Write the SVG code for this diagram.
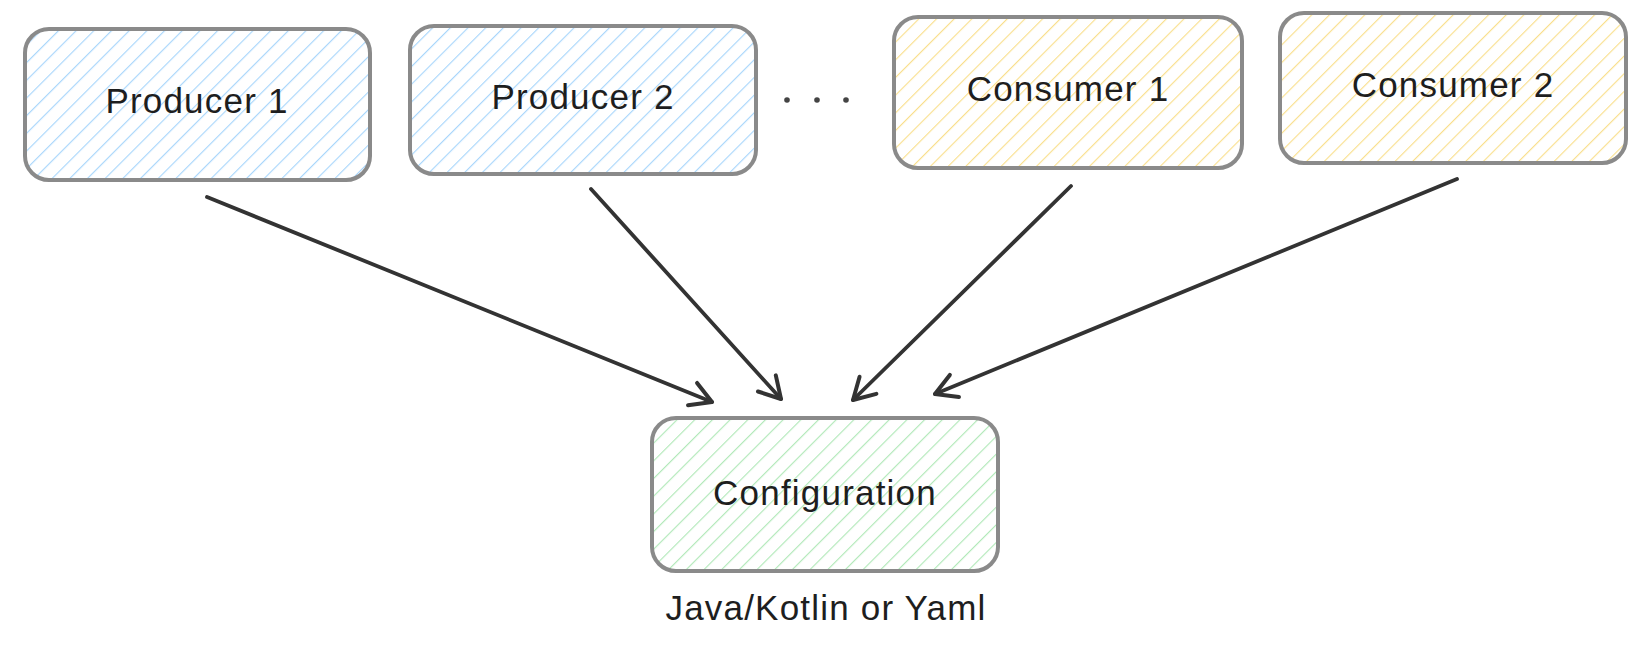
<svg xmlns="http://www.w3.org/2000/svg" width="1650" height="652" viewBox="0 0 1650 652">
<defs>
<pattern id="hBlue" patternUnits="userSpaceOnUse" width="12.5" height="12.5" patternTransform="rotate(45)"><line x1="0" y1="0" x2="0" y2="12.5" stroke="#a8d6fb" stroke-width="2.3"/></pattern>
<pattern id="hYellow" patternUnits="userSpaceOnUse" width="12.5" height="12.5" patternTransform="rotate(45)"><line x1="0" y1="0" x2="0" y2="12.5" stroke="#f9df8c" stroke-width="2.3"/></pattern>
<pattern id="hGreen" patternUnits="userSpaceOnUse" width="12.5" height="12.5" patternTransform="rotate(45)"><line x1="0" y1="0" x2="0" y2="12.5" stroke="#b0e8b8" stroke-width="2.3"/></pattern>
<marker id="arr" markerWidth="32" markerHeight="32" viewBox="0 0 32 32" refX="27" refY="16" orient="auto" markerUnits="userSpaceOnUse"><path d="M6,4 L27,16 L6,28" fill="none" stroke="#333" stroke-width="4" stroke-linecap="round" stroke-linejoin="round"/></marker>
</defs>
<style>
.box{stroke:#8a8a8a;stroke-width:4}
.lbl{font-family:"Liberation Sans",Arial,sans-serif;font-size:35px;fill:#1e1e1e;text-anchor:middle;letter-spacing:1.2px}
.con{stroke:#333;stroke-width:3.8;fill:none;stroke-linecap:round}
</style>
<g id="producer1"><rect class="box" x="25" y="29" width="345" height="151" rx="24" fill="url(#hBlue)"/><text class="lbl" x="197" y="113">Producer 1</text></g>
<g id="producer2"><rect class="box" x="410" y="26" width="346" height="148" rx="24" fill="url(#hBlue)"/><text class="lbl" x="583" y="109">Producer 2</text></g>
<g id="dots" fill="#444"><circle cx="787" cy="100" r="2.8"/><circle cx="817" cy="100" r="2.8"/><circle cx="846" cy="100" r="2.8"/></g>
<g id="consumer1"><rect class="box" x="894" y="17" width="348" height="151" rx="24" fill="url(#hYellow)"/><text class="lbl" x="1068" y="101">Consumer 1</text></g>
<g id="consumer2"><rect class="box" x="1280" y="13" width="346" height="150" rx="24" fill="url(#hYellow)"/><text class="lbl" x="1453" y="97">Consumer 2</text></g>
<g id="configuration"><rect class="box" x="652" y="418" width="346" height="153" rx="24" fill="url(#hGreen)"/><text class="lbl" x="825" y="505">Configuration</text></g>
<g id="note"><text class="lbl" x="826" y="620">Java/Kotlin or Yaml</text></g>
<g id="connectors">
<line class="con" x1="207" y1="197" x2="712" y2="402" marker-end="url(#arr)"/>
<line class="con" x1="591" y1="189" x2="781" y2="399" marker-end="url(#arr)"/>
<line class="con" x1="1071" y1="186" x2="853" y2="400" marker-end="url(#arr)"/>
<line class="con" x1="1457" y1="179" x2="935" y2="394" marker-end="url(#arr)"/>
</g>
</svg>
